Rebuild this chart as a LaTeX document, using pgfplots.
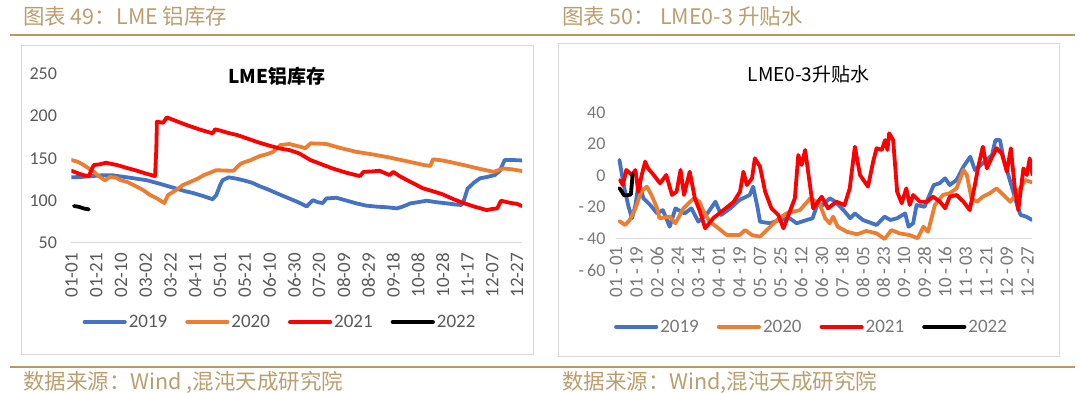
\documentclass[border=0pt]{standalone}
\usepackage{fontspec}
\setmainfont{Carlito}
\newfontfamily\cjk{Noto Sans CJK SC}
\usepackage{pgfplots}
\pgfplotsset{compat=1.18}
\definecolor{c19}{RGB}{68,114,196}
\definecolor{c20}{RGB}{237,125,49}
\definecolor{c21}{RGB}{255,0,0}
\definecolor{goldline}{RGB}{186,152,98}
\definecolor{goldtxt}{RGB}{188,158,110}
\definecolor{gridc}{RGB}{217,217,217}
\definecolor{framec}{RGB}{217,217,217}
\definecolor{lab}{RGB}{89,89,89}
\definecolor{labr}{RGB}{120,120,120}
\pgfplotsset{
  base/.style={
    anchor=south west, scale only axis,
    xmin=0, xmax=364,
    axis line style={draw=none}, tick style={draw=none},
    major grid style={gridc, line width=1.4pt},
    extra y tick style={grid=major},
    every axis plot/.append style={line width=3.8pt, line join=round, line cap=round, no markers},
    legend columns=4,
    legend cell align=left,
    legend image code/.code={\draw[#1, line width=4.2pt, line cap=round] (0pt,0pt) -- (40pt,0pt);},
  }
}
\begin{document}
\begin{tikzpicture}
\useasboundingbox (0pt,0pt) rectangle (1080pt,392pt);
% header / footer rules
\draw[goldline, line width=2.2pt] (10pt,357pt) -- (1075pt,357pt);
\draw[goldline, line width=2.2pt] (10pt,25pt) -- (1075pt,25pt);
\node[anchor=west, inner sep=0pt, text=goldtxt, font=\cjk\fontsize{21.5}{21.5}\selectfont] at (23pt,376pt) {图表 49：LME 铝库存};
\node[anchor=west, inner sep=0pt, text=goldtxt, font=\cjk\fontsize{21.5}{21.5}\selectfont] at (562pt,376pt) {图表 50： LME0-3 升贴水};
\node[anchor=west, inner sep=0pt, text=goldtxt, font=\cjk\fontsize{21.5}{21.5}\selectfont] at (23pt,10pt) {数据来源：Wind ,混沌天成研究院};
\node[anchor=west, inner sep=0pt, text=goldtxt, font=\cjk\fontsize{21.5}{21.5}\selectfont] at (562pt,10pt) {数据来源：Wind,混沌天成研究院};
% frames
\draw[framec, line width=1pt] (21pt,38pt) rectangle (533pt,346pt);
\draw[framec, line width=1pt] (558.5pt,36pt) rectangle (1059pt,348pt);
% titles
\node[font=\cjk\bfseries\fontsize{19}{19}\selectfont] at (277pt,316pt) {LME铝库存};
\node[font=\cjk\fontsize{19}{19}\selectfont] at (808.5pt,318pt) {LME0-3升贴水};

% ---------- left chart ----------
\begin{axis}[base,
  at={(71.5pt,149.3pt)}, width=450.5pt, height=168.7pt,
  ymin=50, ymax=250,
  ytick={50,100,150,200,250}, yticklabels={50,100,150,200,250},
  yticklabel style={font=\fontsize{18}{18}\selectfont, text=lab, xshift=-11pt},
  xtick={0,20,...,360},
  xticklabels={01-01,01-21,02-10,03-02,03-22,04-11,05-01,05-21,06-10,06-30,07-20,08-09,08-29,09-18,10-08,10-28,11-17,12-07,12-27},
  xticklabel style={font=\fontsize{19}{19}\selectfont, text=lab, rotate=90, anchor=east, xshift=-7pt},
  extra y ticks={50}, extra y tick labels={},
  legend style={at={(0.4628,-0.47)}, anchor=center, draw=none, fill=none,
    font=\fontsize{19}{19}\selectfont, text=lab,
    /tikz/every even column/.append style={column sep=16pt}},
]
\addplot[c19] coordinates {(0,127.5)(8,128)(17,129)(25,130)(33,130)(40,128.5)(45,127.5)(52,126)(61,124)(71,120)(78,117)(85,114)(92,111)(98,109)(106,105.5)(114,101.5)(117,106.5)(120,118)(122,124)(127,127.5)(133,126)(139,124)(146,121)(152,117)(159,113)(166,108.5)(175,103)(184,97.5)(190,93)(195,100.5)(199,98)(203,97)(206,102.5)(214,103.3)(222,100)(230,96.7)(238,94)(247,92.7)(255,92)(263,90.7)(268,93)(274,96.7)(280,98)(287,99.8)(295,98)(303,96.7)(309,95.5)(315,94.7)(317,100)(320,114)(325,121)(330,126.3)(336,128)(342,130.2)(346,135)(350,148)(357,148)(364,147.5)};
\addlegendentry{2019}
\addplot[c20] coordinates {(0,148)(5,146)(10,142)(14,138)(18,134)(22,129)(27,124)(31,128)(36,127)(40,124)(45,122)(52,117)(58,112.4)(63,107)(69,102.6)(75,97)(78,106.5)(84,112)(90,118.4)(96,122)(102,126)(107,130.2)(112,133)(117,136)(124,135.5)(131,135.3)(134,140)(137,144)(145,148)(152,152.7)(158,155)(163,157.8)(166,162)(169,165.8)(176,167)(185,163.7)(189,162)(193,167.8)(200,167.5)(206,167)(218,162)(230,157.8)(244,154.5)(257,151)(268,147.5)(279,144)(285,142)(290,141)(292,148.8)(300,147.5)(311,144)(320,141)(330,137.5)(341,134)(345,136)(349,138)(356,137)(364,135)};
\addlegendentry{2020}
\addplot[c21] coordinates {(0,135.3)(4,133)(7,131.4)(10,130)(14,129)(16,136)(18,142)(23,143)(28,144.8)(32,143.5)(37,142)(45,138.5)(53,135.3)(60,132)(67.5,129)(68.5,160)(69,193.4)(74,192.2)(77,198.6)(85,194)(93,189.5)(103,184.5)(114,179.6)(116,184.4)(120,183)(127,180)(134,177.6)(143,173)(152,168.5)(160,165)(168,161.8)(176,159.8)(184,155.9)(193,148)(202,143)(211,138)(222,133)(233,129)(236,134)(243,134.5)(249,135.3)(254,132)(257,130.2)(260,134)(265,129)(271,124.3)(278,119)(284,114.5)(292,111)(300,107.3)(308,102)(316,97.4)(325,93)(335.5,88.7)(340,90)(344,90.7)(347,99.8)(354,97.4)(360,96)(364,93.5)};
\addlegendentry{2021}
\addplot[black] coordinates {(2,93.5)(6,92.5)(10,90.5)(14,89.5)};
\addlegendentry{2022}
\end{axis}

% ---------- right chart ----------
\begin{axis}[base,
  at={(616pt,122pt)}, width=416pt, height=157.3pt,
  ymin=-60, ymax=40,
  ytick={-60,-40,-20,0,20,40}, yticklabels={-\,60,-\,40,-\,20,0,20,40},
  yticklabel style={font=\fontsize{18}{18}\selectfont, text=labr, xshift=-7pt},
  xtick={0,18,...,360},
  xticklabels={01\,-\,01,01\,-\,19,02\,-\,06,02\,-\,24,03\,-\,14,04\,-\,01,04\,-\,19,05\,-\,07,05\,-\,25,06\,-\,12,06\,-\,30,07\,-\,18,08\,-\,05,08\,-\,23,09\,-\,10,09\,-\,28,10\,-\,16,11\,-\,03,11\,-\,21,12\,-\,09,12\,-\,27},
  xticklabel style={font=\fontsize{19}{19}\selectfont, text=labr, rotate=90, anchor=east, xshift=27pt},
  extra y ticks={-40}, extra y tick labels={},
  legend style={at={(0.47,-0.362)}, anchor=center, draw=none, fill=none,
    font=\fontsize{19}{19}\selectfont, text=labr,
    /tikz/every even column/.append style={column sep=16pt}},
]
\addplot[c19] coordinates {(3,10)(4,5.7)(6,-3)(8,-10.2)(11,-19.8)(14,-27.1)(17,-18.7)(20,-3.9)(24,-14.4)(30,-18.7)(36,-24)(41,-21.9)(47,-32.5)(52,-20.8)(60,-24)(66,-20.8)(72,-29.3)(79,-25)(87,-16.6)(92,-25)(100,-20.8)(108,-15.5)(117,-12.3)(120,-7)(124,-20.8)(126,-29.3)(135,-30.3)(143,-28.2)(152,-27.1)(158,-30.3)(167,-28.2)(172,-27.1)(176,-18.7)(181,-18.7)(187,-14.4)(192,-16.6)(199,-21.9)(205,-27.1)(209,-24)(216,-28.2)(228,-31.4)(235,-26.1)(240,-28.2)(246,-27.1)(253,-24)(256,-32.5)(260,-30.3)(263,-18.7)(270,-19.8)(278,-6)(283,-4.9)(288,-1.7)(292,-6)(298,-2.8)(304,5.7)(310,12)(314,3.6)(321,7.8)(329,13.1)(332,22.6)(336,22.6)(339,11)(345,-3.9)(351,-18.7)(354,-25)(359,-26.1)(364,-28.2)};
\addlegendentry{2019}
\addplot[c20] coordinates {(3,-28.9)(8,-31.4)(12,-28.2)(17,-20.8)(22,-10.2)(27,-7)(31,-12.3)(36,-20.8)(38,-27.1)(47,-26.1)(52,-30.3)(59,-20.8)(68,-14.4)(73,-16.6)(76,-21.9)(82,-29.3)(88,-32.5)(97,-37.8)(108,-37.8)(113,-34.6)(119,-37.8)(126,-38.8)(132,-34.6)(141,-28.2)(149,-24)(161,-21.9)(170,-14.4)(178,-17.6)(183,-27.1)(187,-30.3)(190,-26.1)(194,-32.5)(202,-35.7)(211,-37.3)(219,-35.2)(228,-36.7)(235,-40.3)(241,-34.6)(248,-36.7)(257,-37.8)(264,-39.8)(269,-32.5)(273,-35.7)(279,-18.7)(286,-12.3)(292,-11.2)(298,-8.1)(304,3.6)(307,0.4)(311,-14.4)(316,-16.6)(321,-13.4)(327,-11.2)(333,-8.1)(339,-12.3)(345,-16.6)(352,-10.2)(358,-2.8)(364,-4.3)};
\addlegendentry{2020}
\addplot[c21] coordinates {(3.5,-2.8)(6,-6)(9,3.6)(14,0.4)(17,3.6)(19.5,-10.2)(22.5,0.4)(25.5,8.9)(28,4.6)(33,0.4)(38.5,-4.9)(44,0.4)(49,-12.3)(53,-10.2)(56.5,3.6)(59.5,-12.3)(64.5,2.5)(69,-14.4)(73.5,-22.9)(78,-33.5)(85,-27.1)(94,-21.9)(103,-16.6)(108.5,-10.2)(111.5,2.5)(114.5,-6)(119,-1.7)(121.5,11)(126,5.7)(130.5,-10.2)(136,-20.8)(142,-25)(146.5,-33.5)(152,-22.9)(156.5,-14.4)(159.5,13.1)(162.5,6.8)(165.5,16.3)(168.5,0.4)(172.5,-20.8)(180,-13.4)(185.5,-20.8)(193,-16.6)(200,-18.7)(204.5,-8.1)(209,18.4)(213.5,0.4)(220.5,-7)(225,8.9)(228,17.4)(232.5,16.3)(235.5,22.6)(237.5,16.3)(239,26.9)(242.5,22.6)(246,-10.2)(250,-17.6)(254,-8.1)(257,-18.7)(260,-12.3)(266,-16.6)(272,-16.6)(277.5,-13.4)(283.5,-16.6)(288,-20.8)(292,-13.4)(298,-12.3)(304,-16.6)(309.5,-21.9)(314,-6)(317,5.7)(321,18.4)(324.5,4.6)(328.5,11)(333,17.4)(337.5,14.2)(342,2.5)(345.5,17.4)(349,-8.1)(352,-21.9)(356.5,4.6)(359.5,0.4)(362,11)(364.5,0.4)};
\addlegendentry{2021}
\addplot[black] coordinates {(3,-8)(5,-10)(7,-12.5)(10,-12.5)(13,-12)(14,-4)(14.5,1)};
\addlegendentry{2022}
\end{axis}
\end{tikzpicture}
\end{document}
